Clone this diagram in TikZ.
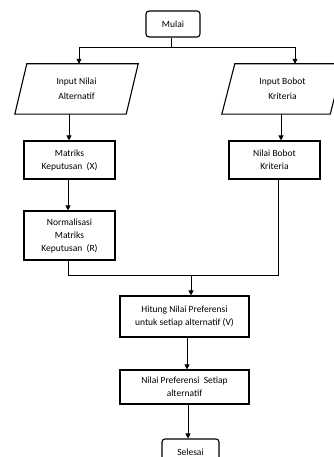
\documentclass[tikz,border=0pt]{standalone}
\usepackage{fontspec}
\setmainfont{Carlito}
\usetikzlibrary{arrows.meta,calc}
\begin{document}
\begin{tikzpicture}[x=1pt,y=-1pt,
  every node/.style={font=\fontsize{9.5}{13}\selectfont, align=center, inner sep=0pt},
  boxnode/.style={draw, line width=1.1pt, rectangle},
  termnode/.style={draw, line width=1.1pt, rectangle, rounded corners=3pt},
  ionode/.style={rectangle},
  ioshape/.style={draw, line width=1.1pt, line join=miter},
  conn/.style={line width=0.7pt},
  arr/.style={conn, -{Triangle[length=5pt,width=5pt]}}]
\useasboundingbox (0,0) rectangle (334,457);
\begin{scope}
\clip (0,0) rectangle (334,457);
% nodes
\node[termnode, minimum width=54pt, minimum height=26pt] (mulai) at (173,24) {Mulai};
\node[ionode, minimum width=123pt, minimum height=50pt, font=\fontsize{9.5}{15}\selectfont] (in1) at (76.5,89) {Input Nilai\\Alternatif};
\node[ionode, minimum width=121pt, minimum height=50pt, font=\fontsize{9.5}{15}\selectfont] (in2) at (282.5,89) {Input Bobot\\Kriteria};
\draw[ioshape] ([xshift=12pt]in1.north west) -- (in1.north east) -- ([xshift=-12pt]in1.south east) -- (in1.south west) -- cycle;
\draw[ioshape] ([xshift=13pt]in2.north west) -- (in2.north east) -- ([xshift=-13pt]in2.south east) -- (in2.south west) -- cycle;
\node[boxnode, minimum width=91pt, minimum height=38pt] (mx) at (69.5,160) {Matriks\\Keputusan\ \ (X)};
\node[boxnode, minimum width=91pt, minimum height=38pt] (nb) at (274.5,160) {Nilai Bobot\\Kriteria};
\node[boxnode, minimum width=91pt, minimum height=49pt] (nm) at (69.5,235.5) {Normalisasi\\Matriks\\Keputusan\ \ (R)};
\node[boxnode, minimum width=129pt, minimum height=41pt] (ht) at (184.5,316.5) {Hitung Nilai Preferensi\\untuk setiap alternatif (V)};
\node[boxnode, minimum width=129pt, minimum height=34pt] (np) at (184.5,387) {Nilai Preferensi\ \ Setiap\\alternatif};
\node[termnode, minimum width=57pt, minimum height=26pt, text depth=0pt] (sel) at (190.5,452) {\raisebox{0pt}{Selesai}};
% connectors
\coordinate (split) at (171,47);
\coordinate (merge) at (191,275);
\draw[conn] ([xshift=-2pt]mulai.south) -- (split);
\draw[arr] (split) -| ([xshift=2.5pt]in1.north);
\draw[arr] (split) -| ([xshift=12.5pt]in2.north);
\draw[arr] ([xshift=-7.5pt]in1.south) -- ([xshift=-0.5pt]mx.north);
\draw[arr] ([xshift=-1.5pt]in2.south) -- ([xshift=6.5pt]nb.north);
\draw[arr] ([xshift=-1.5pt]mx.south) -- ([xshift=-1.5pt]nm.north);
\draw[conn] ([xshift=-1.5pt]nm.south) |- (merge);
\draw[conn] ([xshift=3.5pt]nb.south) |- (merge);
\draw[arr] (merge) -- ([xshift=6.5pt]ht.north);
\draw[arr] ([xshift=2.5pt]ht.south) -- ([xshift=2.5pt]np.north);
\draw[arr] ([xshift=3.5pt]np.south) -- ([xshift=-2.5pt]sel.north);
\end{scope}
\end{tikzpicture}
\end{document}
